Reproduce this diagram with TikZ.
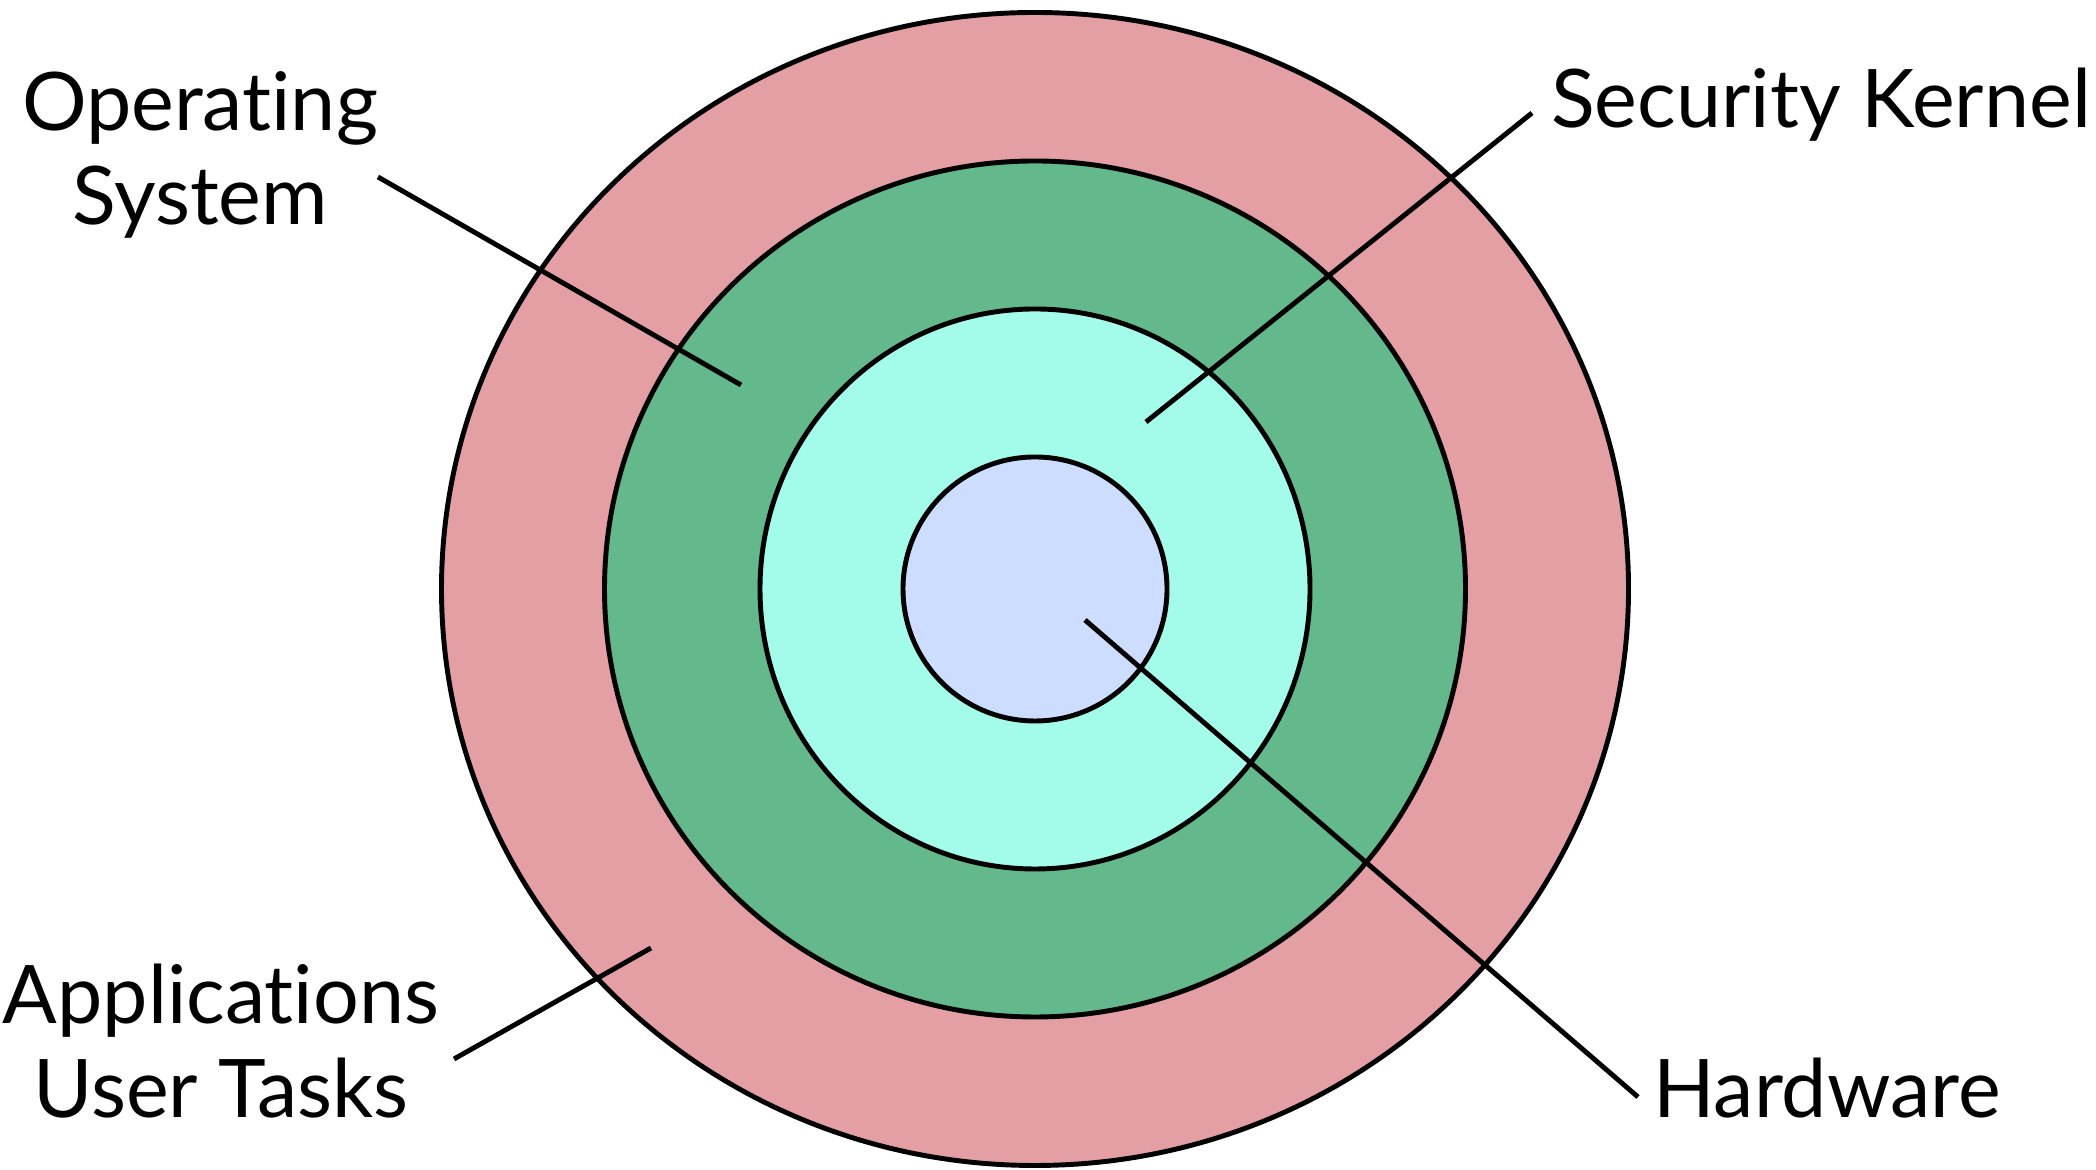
\documentclass[tikz,border=0pt]{standalone}
\usepackage{fontspec}
\setmainfont{Lato}[Ligatures=NoCommon]
\usepackage{xcolor}
\definecolor{ringpink}{HTML}{E49FA5}
\definecolor{ringgreen}{HTML}{63B98C}
\definecolor{ringcyan}{HTML}{A3FCE9}
\definecolor{ringblue}{HTML}{CCDDFF}
\usepackage{tikz}
\usetikzlibrary{positioning,shapes.geometric}
\tikzset{
  ring/.style ={ellipse, draw=black, line width=1.4pt, inner sep=0pt, outer sep=0pt},
  lbl/.style  ={align=center, inner sep=0pt, anchor=base,
                font=\fontsize{23}{27}\selectfont},
  lead/.style ={line width=1.4pt},
}

\begin{document}
\begin{tikzpicture}
  \useasboundingbox (0,0) rectangle (20.96,11.70);
  \node[ring, fill=ringpink,  minimum width=118.7mm, minimum height=115.3mm] (apps) at (10.35,5.81) {};
  \node[ring, fill=ringgreen, minimum width=86.1mm,  minimum height=85.6mm]  (os) at (apps.center) {};
  \node[ring, fill=ringcyan,  minimum width=55mm,    minimum height=56mm]    (kernel) at (apps.center) {};
  \node[ring, fill=ringblue,  minimum width=26.4mm,  minimum height=26.4mm]  (hw) at (apps.center) {};

  \node[lbl] (os-lbl)  at (2.00,9.45)   {Operating\\System};
  \node[lbl] (sk-lbl)  at (18.21,10.42) {Security Kernel};
  \node[lbl] (app-lbl) at (2.21,0.52)   {Applications\\User Tasks};
  \node[lbl] (hw-lbl)  at (18.27,0.52)  {Hardware};

  \coordinate (os-a)  at (3.78,9.93);  \coordinate (os-b)  at (7.41,7.85);
  \coordinate (sk-a)  at (15.32,10.57); \coordinate (sk-b) at (11.46,7.48);
  \coordinate (app-a) at (4.54,1.11);  \coordinate (app-b) at (6.51,2.22);
  \coordinate (hw-a)  at (16.38,0.73); \coordinate (hw-b)  at (10.85,5.50);

  \draw[lead] (os-a) -- (os-b);
  \draw[lead] (sk-a) -- (sk-b);
  \draw[lead] (app-a) -- (app-b);
  \draw[lead] (hw-a) -- (hw-b);
\end{tikzpicture}
\end{document}
